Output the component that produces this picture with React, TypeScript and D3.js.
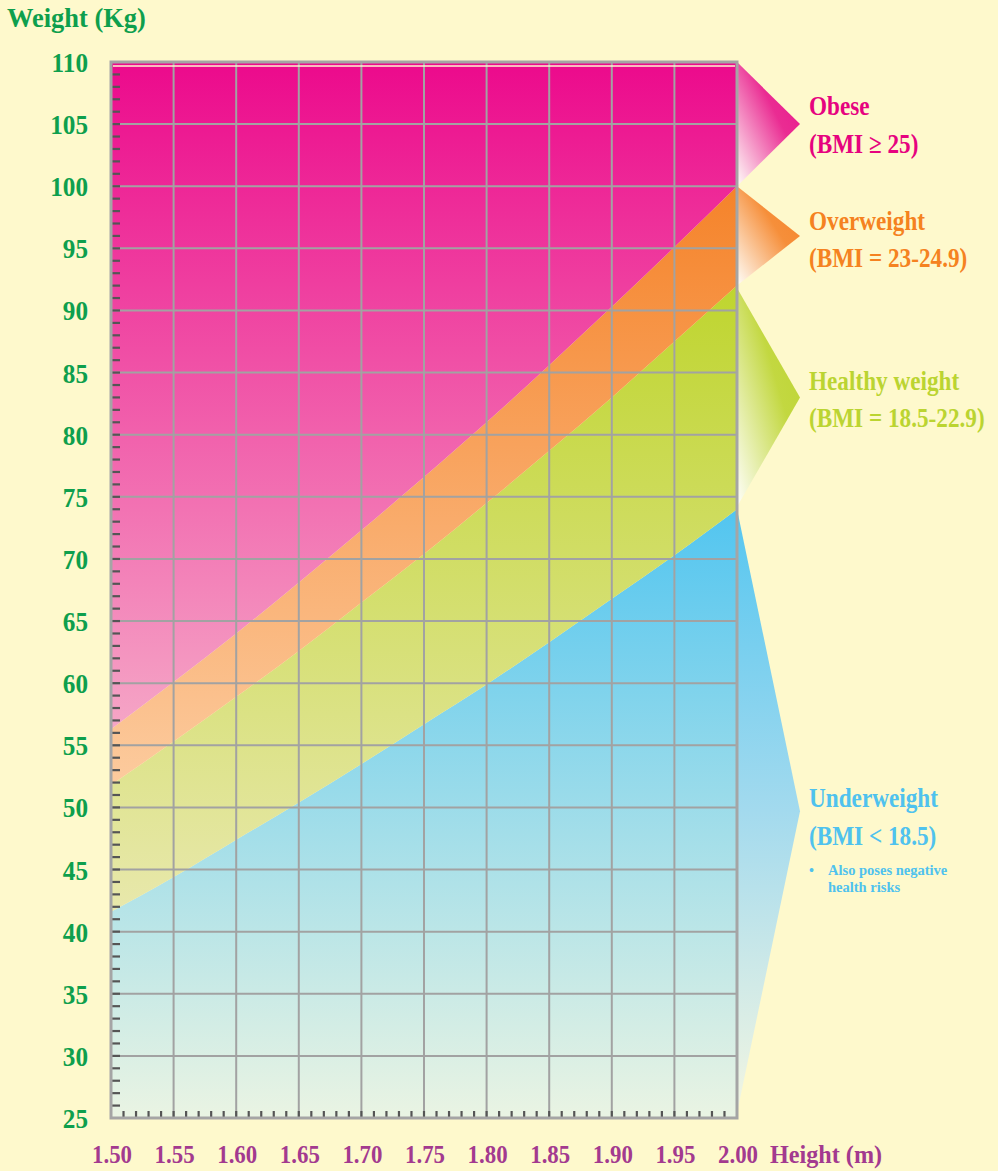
import React from "react";
import * as d3 from "d3";

// BMI chart: weight (kg) against height (m), with bands for each BMI class
const heights = [1.5, 1.55, 1.6, 1.65, 1.7, 1.75, 1.8, 1.85, 1.9, 1.95, 2.0];
// upper weight limit of each band at each height
const underweightMax = [41.6, 44.4, 47.4, 50.4, 53.5, 56.7, 59.9, 63.3, 66.8, 70.3, 74.0];
const healthyMax = [51.8, 55.3, 58.9, 62.6, 66.5, 70.4, 74.5, 78.7, 83.0, 87.5, 92.0];
const overweightMax = [56.3, 60.1, 64.0, 68.1, 72.3, 76.6, 81.0, 85.6, 90.3, 95.1, 100.0];

const weightLabels = [25, 30, 35, 40, 45, 50, 55, 60, 65, 70, 75, 80, 85, 90, 95, 100, 105, 110];
const heightLabels = ["1.50", "1.55", "1.60", "1.65", "1.70", "1.75", "1.80", "1.85", "1.90", "1.95", "2.00"];

const W = 998;
const H = 1171;
const FONT = "'Liberation Serif', 'Times New Roman', serif";
const GREEN = "#0E9F4D";
const PURPLE = "#A33A8F";
const BG = "#FEF9CC";

const x = d3.scaleLinear().domain([1.5, 2.0]).range([111, 737]);
const y = d3.scaleLinear().domain([25, 110]).range([1118, 62]);

type Row = { h: number; lo: number; hi: number };

const band = (lo: number[] | number, hi: number[] | number): Row[] =>
  heights.map((h, i) => ({
    h,
    lo: Array.isArray(lo) ? lo[i] : lo,
    hi: Array.isArray(hi) ? hi[i] : hi,
  }));

const area = d3
  .area<Row>()
  .x((d) => x(d.h))
  .y0((d) => y(d.lo))
  .y1((d) => y(d.hi))
  .curve(d3.curveMonotoneX);

const bands = [
  { id: "under", rows: band(25, underweightMax), c1: "#52C5F0", c2: "#EAF4E3", top: 74, bottom: 25 },
  { id: "healthy", rows: band(underweightMax, healthyMax), c1: "#BFD52F", c2: "#E8E8AC", top: 92, bottom: 41.6 },
  { id: "over", rows: band(healthyMax, overweightMax), c1: "#F5832A", c2: "#FCCB9E", top: 100, bottom: 51.8 },
  { id: "obese", rows: band(overweightMax, 110), c1: "#EC0A8C", c2: "#F5A6C6", top: 110, bottom: 56.3 },
];

// fans on the right, pointing at each label
const fans = [
  { id: "fObese", top: 110, bottom: 100, color: "#E8158C", vertical: false },
  { id: "fOver", top: 100, bottom: 92, color: "#F5832A", vertical: false },
  { id: "fHealthy", top: 91.8, bottom: 74.2, color: "#BCD431", vertical: false },
  { id: "fUnder", top: 74, bottom: 25.4, color: "#55C6F0", vertical: true },
];

const T = ({ x: tx, y: ty, size, color, sx = 0.88, anchor = "start", children }: any) => (
  <text
    transform={`translate(${tx},${ty}) scale(${sx},1)`}
    fontSize={size}
    fill={color}
    textAnchor={anchor}
    fontWeight="bold"
    fontFamily={FONT}
  >
    {children}
  </text>
);

export default function App() {
  const x0 = x(1.5);
  const x1 = x(2.0);
  const tipX = x1 + 63;

  return (
    <svg width={W} height={H} style={{ display: "block", position: "absolute", left: 0, top: 0 }}>
      <defs>
        {bands.map((b) => (
          <linearGradient key={b.id} id={`g-${b.id}`} gradientUnits="userSpaceOnUse" x1={0} x2={0} y1={y(b.top)} y2={y(b.bottom)}>
            <stop offset="0" stopColor={b.c1} />
            <stop offset="1" stopColor={b.c2} />
          </linearGradient>
        ))}
        {fans.map((f) =>
          f.vertical ? (
            <linearGradient key={f.id} id={f.id} x1="0" y1="0" x2="0" y2="1">
              <stop offset="0" stopColor={f.color} />
              <stop offset="0.5" stopColor="#A3DAEE" />
              <stop offset="1" stopColor="#F3F6E2" />
            </linearGradient>
          ) : (
            <linearGradient key={f.id} id={f.id} x1="1" y1="0" x2="0" y2="1">
              <stop offset="0" stopColor={f.color} />
              <stop offset="0.4" stopColor={f.color} stopOpacity={0.9} />
              <stop offset="1" stopColor="#FFFFFF" stopOpacity={0.9} />
            </linearGradient>
          )
        )}
      </defs>

      <rect width={W} height={H} fill={BG} />

      {/* bands */}
      {bands.map((b) => (
        <path key={b.id} d={area(b.rows) ?? ""} fill={`url(#g-${b.id})`} />
      ))}

      {/* fans */}
      {fans.map((f) => (
        <polygon
          key={f.id}
          points={`${x1},${y(f.top)} ${tipX},${(y(f.top) + y(f.bottom)) / 2} ${x1},${y(f.bottom)}`}
          fill={`url(#${f.id})`}
        />
      ))}

      {/* grid */}
      <g stroke="#A2A2A2" strokeWidth={2}>
        {weightLabels.slice(1, -1).map((w) => (
          <line key={w} x1={x0} x2={x1} y1={y(w)} y2={y(w)} />
        ))}
        {heights.slice(1, -1).map((h) => (
          <line key={h} x1={x(h)} x2={x(h)} y1={y(110)} y2={y(25)} />
        ))}
      </g>
      <line x1={x0 + 2} x2={x1 - 2} y1={y(110) + 4} y2={y(110) + 4} stroke="#FFF6D0" strokeWidth={1.5} />

      {/* minor ticks */}
      <g stroke="#555" strokeWidth={2.2}>
        {d3.range(26, 110).map((w) => (
          <line key={w} x1={x0} x2={x0 + 9} y1={y(w)} y2={y(w)} />
        ))}
        {d3.range(1, 50).map((i) => {
          const h = 1.5 + i * 0.01;
          return <line key={i} x1={x(h)} x2={x(h)} y1={y(25)} y2={y(25) - 7} />;
        })}
      </g>

      {/* frame */}
      <rect x={x0} y={y(110)} width={x1 - x0} height={y(25) - y(110)} fill="none" stroke="#A5A5A5" strokeWidth={3} />

      {/* y axis */}
      <T x={7} y={27} size={27} color={GREEN} sx={0.98}>Weight (Kg)</T>
      {weightLabels.map((w) => (
        <T key={w} x={88} y={y(w) + 10} size={28} color={GREEN} sx={0.9} anchor="end">
          {w}
        </T>
      ))}

      {/* x axis */}
      {heightLabels.map((l, i) => (
        <T key={l} x={x(heights[i]) + 1} y={1163} size={26} color={PURPLE} sx={0.88} anchor="middle">
          {l}
        </T>
      ))}
      <T x={770} y={1163} size={26} color={PURPLE} sx={0.93}>Height (m)</T>

      {/* category labels */}
      <T x={809} y={115} size={27} color="#E6037F" sx={0.86}>Obese</T>
      <T x={809} y={153} size={27} color="#E6037F" sx={0.86}>(BMI ≥ 25)</T>
      <T x={809} y={230} size={27} color="#F58220" sx={0.86}>Overweight</T>
      <T x={809} y={267} size={27} color="#F58220" sx={0.86}>(BMI = 23-24.9)</T>
      <T x={809} y={390} size={27} color="#BBD431" sx={0.86}>Healthy weight</T>
      <T x={809} y={427} size={27} color="#BBD431" sx={0.86}>(BMI = 18.5-22.9)</T>
      <T x={809} y={807} size={27} color="#4FC2EE" sx={0.86}>Underweight</T>
      <T x={809} y={845} size={27} color="#4FC2EE" sx={0.86}>(BMI &lt; 18.5)</T>
      <T x={809} y={875} size={14} color="#4FC2EE" sx={1}>•</T>
      <T x={828} y={875} size={14.5} color="#4FC2EE" sx={1}>Also poses negative</T>
      <T x={828} y={892} size={14.5} color="#4FC2EE" sx={1}>health risks</T>
    </svg>
  );
}
